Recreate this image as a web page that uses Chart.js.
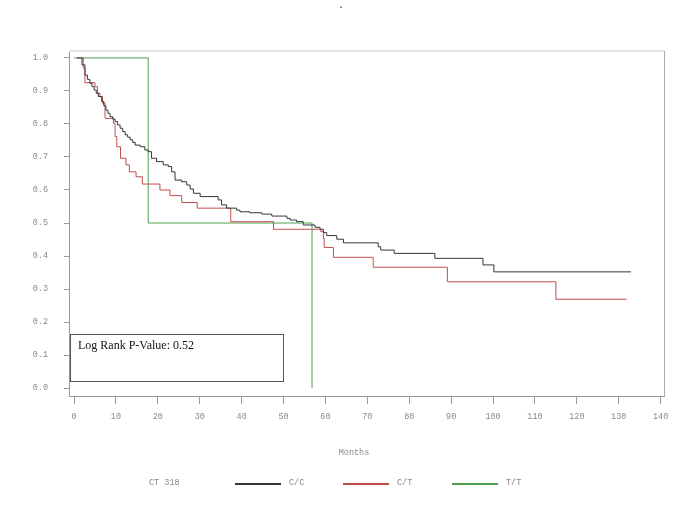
<!DOCTYPE html>
<html>
<head>
<meta charset="utf-8">
<script src="https://cdn.jsdelivr.net/npm/chart.js@4/dist/chart.umd.min.js"></script>
<style>
  body { margin: 0; background: #fff; }
</style>
</head>
<body>
<canvas id="kmChart" width="685" height="513"></canvas>
<script>
const xTicks = [0, 10, 20, 30, 40, 50, 60, 70, 80, 90, 100, 110, 120, 130, 140];
const yTicks = [0, 0.1, 0.2, 0.3, 0.4, 0.5, 0.6, 0.7, 0.8, 0.9, 1.0];

const groupLabels = ["C/C", "C/T", "T/T"];
const legendTitle = "CT 318";
const pValueText = "Log Rank P-Value: 0.52";

// C/C (step points: month of drop, survival after drop)
const ccMonths = [0.7, 1.9, 2.6, 3.2, 3.8, 4.3, 4.8, 5.3, 5.8, 6.6, 7.1, 7.6, 8.1, 8.6, 9.2, 9.8, 10.4, 11.0, 11.6, 12.2, 12.8, 13.4, 14.0, 14.6, 15.8, 16.9, 17.7,
  18.5, 19.7, 21.3, 22.5, 23.3, 24.1, 25.7, 26.9, 27.7, 28.5, 30.1, 34.4, 35.2, 36.4, 38.8, 39.6, 41.9, 44.8, 47.2,
  50.8, 51.6, 53.1, 54.7, 57.5, 58.7, 59.5, 60.3, 62.7, 64.3, 72.6, 73.2, 76.4, 86.1, 97.6, 100.2, 132.9];
const ccSurvival = [1.0, 0.979, 0.948, 0.935, 0.923, 0.913, 0.903, 0.893, 0.883, 0.868, 0.855, 0.842, 0.832, 0.822, 0.815, 0.807, 0.797, 0.787, 0.777, 0.767, 0.760, 0.752, 0.744, 0.736, 0.731, 0.721, 0.716,
  0.696, 0.686, 0.676, 0.671, 0.655, 0.630, 0.625, 0.615, 0.603, 0.590, 0.580, 0.570, 0.555, 0.545, 0.539, 0.534, 0.531, 0.527, 0.521,
  0.514, 0.509, 0.504, 0.494, 0.487, 0.481, 0.471, 0.462, 0.451, 0.440, 0.428, 0.418, 0.408, 0.393, 0.373, 0.352, 0.352];

// C/T
const ctMonths = [1.8, 2.2, 2.6, 5.0, 5.6, 6.2, 6.8, 7.4, 9.4, 9.8, 10.2, 11.1, 12.4, 13.2, 14.8, 16.3, 20.5, 22.9,
  25.7, 29.4, 37.4, 47.6, 58.9, 59.5, 59.7, 61.9, 71.4, 89.1, 115.0, 131.9];
const ctSurvival = [1.0, 0.97, 0.925, 0.913, 0.893, 0.883, 0.863, 0.817, 0.802, 0.762, 0.731, 0.696, 0.676, 0.655, 0.640, 0.618, 0.600, 0.583,
  0.562, 0.545, 0.504, 0.481, 0.474, 0.454, 0.426, 0.396, 0.366, 0.322, 0.269, 0.269];

// T/T
const ttMonths = [0, 17.7, 56.8];
const ttSurvival = [1.0, 0.5, 0.0];

const lineColors = ["#363636", "#c44c4c", "#4f9f4f"];

function toPoints(xs, ys) {
  return xs.map((x, i) => ({ x: x, y: ys[i] }));
}

const kmExtras = {
  id: "kmExtras",
  afterDraw(chart) {
    const ctx = chart.ctx;
    const area = chart.chartArea;
    ctx.save();

    // top and right frame
    ctx.strokeStyle = "#e2e2e2";
    ctx.lineWidth = 2;
    ctx.beginPath();
    ctx.moveTo(area.left, area.top);
    ctx.lineTo(area.right, area.top);
    ctx.stroke();
    ctx.strokeStyle = "#a8a8a8";
    ctx.lineWidth = 1;
    ctx.beginPath();
    ctx.moveTo(area.right + 0.5, area.top);
    ctx.lineTo(area.right + 0.5, area.bottom);
    ctx.stroke();

    // small dot at top
    ctx.fillStyle = "#333";
    ctx.font = "10px 'Liberation Mono'";
    ctx.textAlign = "center";
    ctx.textBaseline = "middle";
    ctx.fillText(".", 341, 5);

    // axis title
    ctx.fillStyle = "#8a8a8a";
    ctx.font = "8.5px 'Liberation Mono'";
    ctx.fillText("Months", 354, 453);

    // legend
    const ly = 483;
    ctx.textAlign = "left";
    ctx.fillText(legendTitle, 149, ly);
    const lineStarts = [235, 343, 452];
    groupLabels.forEach((label, i) => {
      ctx.strokeStyle = lineColors[i];
      ctx.lineWidth = 2;
      ctx.beginPath();
      ctx.moveTo(lineStarts[i], ly + 1);
      ctx.lineTo(lineStarts[i] + 46, ly + 1);
      ctx.stroke();
      ctx.fillStyle = "#8a8a8a";
      ctx.fillText(label, lineStarts[i] + 54, ly);
    });

    // p-value box
    ctx.strokeStyle = "#555";
    ctx.lineWidth = 1;
    ctx.strokeRect(70.5, 334.5, 213, 47);
    ctx.fillStyle = "#111";
    ctx.font = "12px 'Liberation Serif'";
    ctx.textBaseline = "alphabetic";
    ctx.fillText(pValueText, 78, 349);

    ctx.restore();
  }
};

const ctx = document.getElementById("kmChart").getContext("2d");
new Chart(ctx, {
  type: "line",
  data: {
    datasets: [
      { label: groupLabels[0], data: toPoints(ccMonths, ccSurvival), borderColor: lineColors[0] },
      { label: groupLabels[1], data: toPoints(ctMonths, ctSurvival), borderColor: lineColors[1] },
      { label: groupLabels[2], data: toPoints(ttMonths, ttSurvival), borderColor: lineColors[2] }
    ]
  },
  options: {
    responsive: false,
    animation: false,
    layout: { padding: { left: 0, top: 51, right: 21, bottom: 0 } },
    elements: {
      line: { borderWidth: 1, stepped: true, fill: false },
      point: { radius: 0 }
    },
    plugins: {
      legend: { display: false },
      title: { display: false },
      tooltip: { enabled: false }
    },
    scales: {
      x: {
        type: "linear",
        min: -1.2,
        max: 140.8,
        afterBuildTicks: s => { s.ticks = xTicks.map(v => ({ value: v })); },
        afterFit: s => { s.height = 117; },
        grid: { drawOnChartArea: false, drawTicks: true, tickLength: 8, color: "#999" },
        border: { display: true, color: "#999" },
        ticks: {
          color: "#8a8a8a",
          padding: 8,
          maxRotation: 0,
          font: { family: "'Liberation Mono'", size: 8.5 },
          callback: v => String(v)
        }
      },
      y: {
        min: -0.024,
        max: 1.021,
        afterBuildTicks: s => { s.ticks = yTicks.map(v => ({ value: v })); },
        afterFit: s => { s.width = 69; },
        grid: { drawOnChartArea: false, drawTicks: true, tickLength: 5, color: "#999" },
        border: { display: true, color: "#999" },
        ticks: {
          color: "#8a8a8a",
          padding: 16,
          font: { family: "'Liberation Mono'", size: 8.5 },
          callback: v => v.toFixed(1)
        }
      }
    }
  },
  plugins: [kmExtras]
});
</script>
</body>
</html>
